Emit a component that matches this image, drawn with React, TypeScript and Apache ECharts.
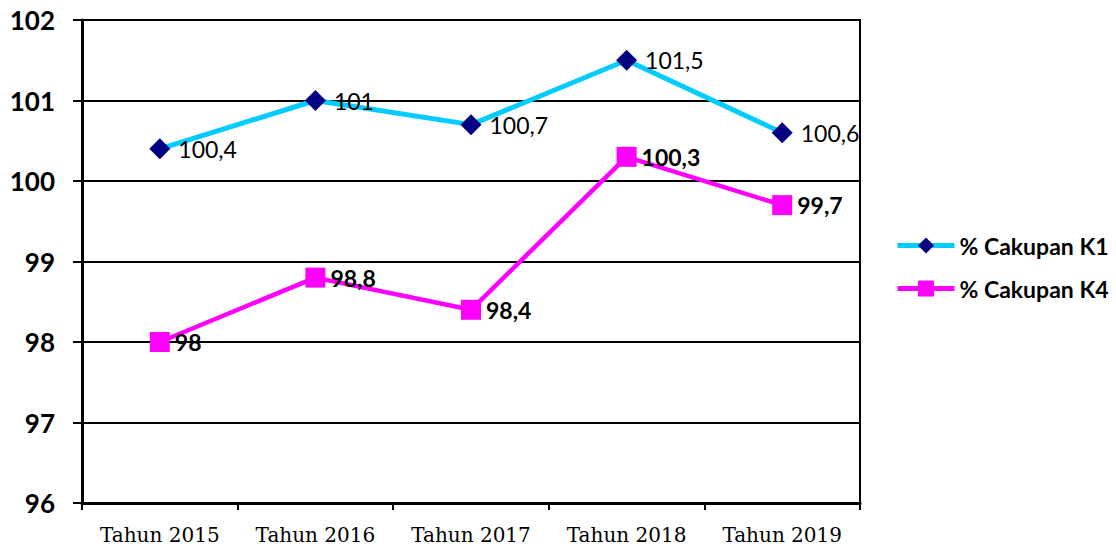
import React, { useEffect, useRef } from "react";
import * as echarts from "echarts";

const categories = ["Tahun 2015", "Tahun 2016", "Tahun 2017", "Tahun 2018", "Tahun 2019"];
const k1Values = [100.4, 101, 100.7, 101.5, 100.6];
const k4Values = [98, 98.8, 98.4, 100.3, 99.7];
const seriesNames = ["% Cakupan K1", "% Cakupan K4"];

const fmt = (v: number) => String(v).replace(".", ",");

export default function App() {
  const ref = useRef<HTMLDivElement>(null);
  useEffect(() => {
    if (!ref.current) return;
    const chart = echarts.init(ref.current, undefined, { renderer: "svg" });
    chart.setOption({
      animation: false,
      backgroundColor: "#fff",
      grid: {
        left: 82,
        top: 20,
        right: 256,
        bottom: 47,
        show: true,
        borderColor: "#000",
        borderWidth: 2,
      },
      legend: {
        orient: "vertical",
        left: 890,
        top: 229,
        itemWidth: 57,
        itemHeight: 20,
        itemGap: 20,
        lineStyle: { width: 5 },
        textStyle: { fontFamily: "Lato", fontWeight: "bold", fontSize: 23, color: "#000" },
        data: seriesNames,
      },
      xAxis: {
        type: "category",
        data: categories,
        boundaryGap: true,
        axisLine: { lineStyle: { color: "#000", width: 3 } },
        axisTick: { show: true, length: 7, lineStyle: { color: "#000", width: 2 } },
        axisLabel: {
          interval: 0,
          hideOverlap: false,
          fontFamily: "DejaVu Serif",
          fontSize: 20,
          color: "#000",
          margin: 22,
        },
      },
      yAxis: {
        type: "value",
        min: 96,
        max: 102,
        interval: 1,
        axisLine: { show: true, lineStyle: { color: "#000", width: 3 } },
        axisTick: { show: true, length: 9, lineStyle: { color: "#000", width: 2 } },
        axisLabel: { fontFamily: "Lato", fontWeight: "bold", fontSize: 26, color: "#000", margin: 27 },
        splitLine: { show: true, lineStyle: { color: "#000", width: 2 } },
      },
      series: [
        {
          name: seriesNames[0],
          type: "line",
          data: k1Values,
          symbol: "diamond",
          symbolSize: 21,
          lineStyle: { color: "#00CCFF", width: 5 },
          itemStyle: { color: "#000080" },
          label: {
            show: true,
            position: "right",
            distance: 8,
            formatter: (p: any) => fmt(p.value),
            fontFamily: "Lato",
            fontSize: 23,
            color: "#000",
          },
          z: 3,
        },
        {
          name: seriesNames[1],
          type: "line",
          data: k4Values,
          symbol: "rect",
          symbolSize: 20,
          lineStyle: { color: "#FF00FF", width: 4.5 },
          itemStyle: { color: "#FF00FF" },
          label: {
            show: true,
            position: "right",
            distance: 5,
            formatter: (p: any) => fmt(p.value),
            fontFamily: "Lato",
            fontWeight: "bold",
            fontSize: 23,
            color: "#000",
          },
          z: 3,
        },
      ],
    });
    return () => chart.dispose();
  }, []);
  return (
    <div
      ref={ref}
      style={{ position: "fixed", left: 0, top: 0, width: 1116, height: 550, background: "#fff" }}
    />
  );
}
